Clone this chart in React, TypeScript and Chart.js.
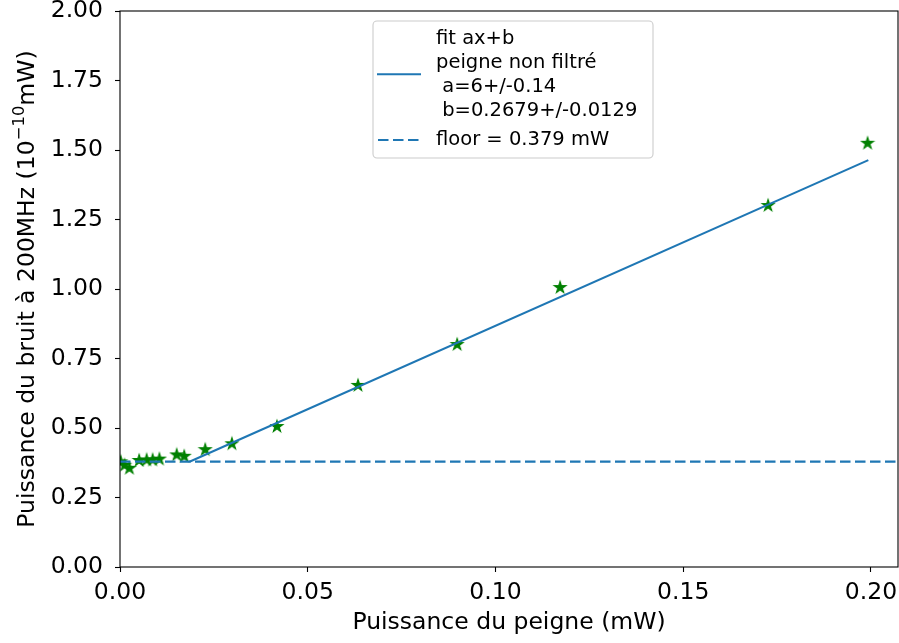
import React, { useEffect, useRef } from "react";
import { Chart, registerables } from "chart.js";

Chart.register(...registerables);

// Measured points: comb power (mW) vs noise power at 200 MHz (1e-10 mW)
const combPower = [0.0002, 0.0012, 0.0025, 0.0051, 0.0071, 0.0087, 0.0105, 0.0151, 0.0171, 0.0227, 0.0298, 0.0418, 0.0634, 0.0898, 0.1172, 0.1726, 0.1991];
const noisePower = [0.380, 0.368, 0.357, 0.385, 0.387, 0.387, 0.390, 0.405, 0.400, 0.424, 0.445, 0.507, 0.655, 0.802, 1.007, 1.302, 1.526];

// Linear fit a*x + b and its plotted x-range
const fitA = 6;
const fitB = 0.2679;
const fitRange = [0.0185, 0.1993];

// Noise floor
const floorLevel = 0.379;

// Axis limits / steps
const xLimits = [0, 0.2072];
const yLimits = [0, 2];
const xStep = 0.05;
const yStep = 0.25;

// Axis titles
const xTitle = "Puissance du peigne (mW)";
const yTitleParts = ["Puissance du bruit à 200MHz (10", "−10", "mW)"];

// Legend texts
const fitLegendLines = ["fit ax+b", "peigne non filtré", " a=6+/-0.14", " b=0.2679+/-0.0129"];
const floorLegend = "floor = 0.379 mW";

const BLUE = "#1f77b4";
const GREEN = "#008000";
const FONT = "DejaVu Sans";
const TICK_SIZE = 23.5;

function makeStar(): HTMLCanvasElement {
  const c = document.createElement("canvas");
  c.width = 16;
  c.height = 16;
  const g = c.getContext("2d")!;
  const cx = 8, cy = 8.5, R = 6.2, r = R * 0.381966;
  g.beginPath();
  for (let i = 0; i < 10; i++) {
    const rad = i % 2 === 0 ? R : r;
    const ang = -Math.PI / 2 + (i * Math.PI) / 5;
    const px = cx + rad * Math.cos(ang);
    const py = cy + rad * Math.sin(ang);
    if (i === 0) g.moveTo(px, py);
    else g.lineTo(px, py);
  }
  g.closePath();
  g.fillStyle = GREEN;
  g.fill();
  g.lineWidth = 1.1;
  g.lineJoin = "miter";
  g.strokeStyle = GREEN;
  g.stroke();
  return c;
}

const framePlugin = {
  id: "frame",
  afterDatasetsDraw(chart: any) {
    const { ctx, chartArea } = chart;
    ctx.save();
    ctx.strokeStyle = "#000";
    ctx.lineWidth = 1.1;
    ctx.strokeRect(chartArea.left, chartArea.top, chartArea.right - chartArea.left, chartArea.bottom - chartArea.top);
    ctx.restore();
  },
};

// y-axis title with a true superscript exponent
const yTitlePlugin = {
  id: "yTitle",
  afterDraw(chart: any) {
    const { ctx, chartArea } = chart;
    const main = `${TICK_SIZE}px "${FONT}"`;
    const sup = `${(TICK_SIZE * 0.7).toFixed(2)}px "${FONT}"`;
    ctx.save();
    ctx.fillStyle = "#000";
    ctx.textBaseline = "alphabetic";
    ctx.textAlign = "left";
    ctx.font = main;
    const w0 = ctx.measureText(yTitleParts[0]).width;
    const w2 = ctx.measureText(yTitleParts[2]).width;
    ctx.font = sup;
    const w1 = ctx.measureText(yTitleParts[1]).width;
    const total = w0 + w1 + w2;
    ctx.translate(33.5, (chartArea.top + chartArea.bottom) / 2);
    ctx.rotate(-Math.PI / 2);
    let x = -total / 2;
    ctx.font = main;
    ctx.fillText(yTitleParts[0], x, 0);
    x += w0;
    ctx.font = sup;
    ctx.fillText(yTitleParts[1], x, -9.5);
    x += w1;
    ctx.font = main;
    ctx.fillText(yTitleParts[2], x, 0);
    ctx.restore();
  },
};

const legendPlugin = {
  id: "fitLegend",
  afterDraw(chart: any) {
    const { ctx, chartArea } = chart;
    const x0 = chartArea.left + 253;
    const y0 = chartArea.top + 10;
    const w = 280;
    const h = 137;
    ctx.save();
    ctx.beginPath();
    if ((ctx as any).roundRect) (ctx as any).roundRect(x0, y0, w, h, 4);
    else ctx.rect(x0, y0, w, h);
    ctx.fillStyle = "rgba(255,255,255,0.8)";
    ctx.fill();
    ctx.strokeStyle = "#cccccc";
    ctx.lineWidth = 1.1;
    ctx.stroke();

    const textX = x0 + 63;
    ctx.font = `19.5px "${FONT}"`;
    ctx.fillStyle = "#000";
    ctx.textBaseline = "alphabetic";
    ctx.textAlign = "left";
    fitLegendLines.forEach((t, i) => {
      ctx.fillText(t, textX, y0 + 23.3 + i * 24);
    });
    ctx.fillText(floorLegend, textX, y0 + 124);

    // solid handle
    ctx.strokeStyle = BLUE;
    ctx.lineWidth = 2.1;
    ctx.lineCap = "butt";
    ctx.beginPath();
    ctx.moveTo(x0 + 4, y0 + 53.3);
    ctx.lineTo(x0 + 48, y0 + 53.3);
    ctx.stroke();
    // dashed handle
    ctx.setLineDash([10.5, 4.5]);
    ctx.beginPath();
    ctx.moveTo(x0 + 5, y0 + 119);
    ctx.lineTo(x0 + 48, y0 + 119);
    ctx.stroke();
    ctx.restore();
  },
};

export default function App() {
  const ref = useRef<HTMLCanvasElement>(null);

  useEffect(() => {
    document.body.style.margin = "0";
    const star = makeStar();
    const tickFont = { family: FONT, size: TICK_SIZE, lineHeight: 0.9 };
    const titleFont = { family: FONT, size: TICK_SIZE, lineHeight: 1.2 };

    const chart = new Chart(ref.current!, {
      type: "scatter",
      data: {
        datasets: [
          {
            label: "fit",
            type: "line",
            data: fitRange.map((x) => ({ x, y: fitA * x + fitB })),
            borderColor: BLUE,
            borderWidth: 2.1,
            pointRadius: 0,
            showLine: true,
            fill: false,
            order: 1,
          } as any,
          {
            label: "floor",
            type: "line",
            data: xLimits.map((x) => ({ x, y: floorLevel })),
            borderColor: BLUE,
            borderWidth: 2.1,
            borderDash: [10.5, 4.5],
            pointRadius: 0,
            showLine: true,
            fill: false,
            order: 2,
          } as any,
          {
            label: "points",
            data: combPower.map((x, i) => ({ x, y: noisePower[i] })),
            pointStyle: star,
            pointRadius: 7,
            showLine: false,
            clip: 0,
            order: 3,
          } as any,
        ],
      },
      options: {
        animation: false,
        responsive: false,
        layout: { autoPadding: false, padding: { top: 11, right: 1, left: 0, bottom: 0 } },
        plugins: { legend: { display: false }, tooltip: { enabled: false } },
        scales: {
          x: {
            type: "linear",
            min: xLimits[0],
            max: xLimits[1],
            border: { display: false },
            grid: { drawOnChartArea: false, drawTicks: true, tickLength: 5, tickWidth: 1.1, tickColor: "#000" },
            ticks: {
              stepSize: xStep,
              includeBounds: false,
              autoSkip: false,
              maxRotation: 0,
              padding: 10,
              color: "#000",
              font: tickFont,
              callback: (v: any) => Number(v).toFixed(2),
            },
            title: {
              display: true,
              text: xTitle,
              color: "#000",
              font: titleFont,
              padding: { top: 0, bottom: 6 },
            },
            afterFit: (s: any) => {
              s.height = 76;
              s.paddingLeft = 0;
              s.paddingRight = 0;
            },
          },
          y: {
            type: "linear",
            min: yLimits[0],
            max: yLimits[1],
            border: { display: false },
            grid: { drawOnChartArea: false, drawTicks: true, tickLength: 5, tickWidth: 1.1, tickColor: "#000" },
            ticks: {
              stepSize: yStep,
              includeBounds: false,
              autoSkip: false,
              padding: 12,
              color: "#000",
              font: tickFont,
              callback: (v: any) => Number(v).toFixed(2),
            },
            title: { display: false },
            afterFit: (s: any) => {
              s.width = 120;
              s.paddingTop = 0;
              s.paddingBottom = 0;
            },
          },
        },
      } as any,
      plugins: [framePlugin, yTitlePlugin, legendPlugin],
    });
    return () => chart.destroy();
  }, []);

  return (
    <div style={{ width: 899, height: 643 }}>
      <canvas ref={ref} width={899} height={643} style={{ display: "block" }} />
    </div>
  );
}
